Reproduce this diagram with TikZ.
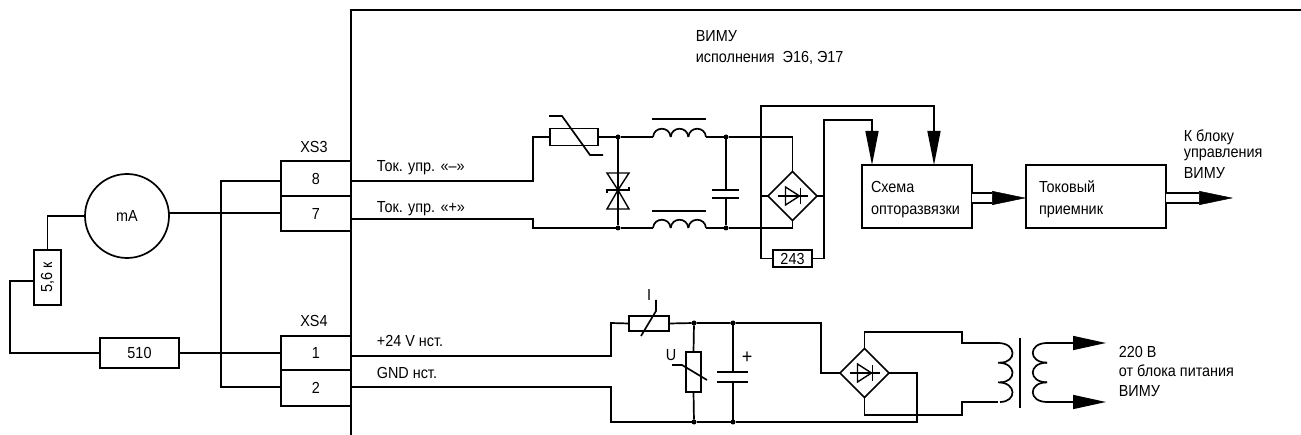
\documentclass[tikz,border=0pt]{standalone}
\usepackage{fontspec}
\setmainfont[FakeStretch=0.9]{Liberation Sans}
\usetikzlibrary{arrows.meta,shapes.geometric}
\newcommand{\pinnum}[1]{\raisebox{-4.5pt}{#1}}
\tikzset{box node/.style={rectangle,draw,inner sep=0pt,outer sep=0pt},
	dot node/.style={circle,fill=black,inner sep=0pt,minimum size=5pt,outer sep=0pt},
	bridge node/.style={diamond,draw,aspect=1,inner sep=0pt,outer sep=0pt,minimum size=49pt},
	text node/.style={anchor=base west,inner sep=0pt},
}
\begin{document}
\begin{tikzpicture}[x=1pt,y=-1pt,line width=1.7pt,font=\fontsize{16}{18}\selectfont,
		arrow wire/.style={-{Triangle[length=34pt,width=14pt]}},
		small arrow/.style={-{Triangle[length=34pt,width=13pt]},line width=1.5pt},
		block node/.style={box node,minimum height=63pt,align=left,text height=16.6pt,font=\fontsize{16}{22}\selectfont}]
	\useasboundingbox (0,0) rectangle (1301,435);
	
	% frame
	\draw (1301,10) -- (351,10) -- (351,435);
	
	% connectors
	\node[box node,minimum width=70pt,minimum height=35pt] (pin8) at (316,178.5) {\pinnum{8}};
	\node[box node,minimum width=70pt,minimum height=35pt] (pin7) at (316,213.5) {\pinnum{7}};
	\node[box node,minimum width=70pt,minimum height=34pt] (pin1) at (316,353) {\pinnum{1}};
	\node[box node,minimum width=70pt,minimum height=36pt] (pin2) at (316,388) {\pinnum{2}};
	\node[anchor=base,inner sep=0pt] (xs3) at (314,153) {XS3};
	\node[anchor=base,inner sep=0pt] (xs4) at (314,327) {XS4};
	
	% outside
	\node[circle,draw,minimum size=84pt,inner sep=0pt,outer sep=0pt] (ma) at (127,216) {mA};
	\node[box node,minimum width=27pt,minimum height=55pt] (r56) at (47.5,277.5) {\rotatebox{90}{5,6 к}};
	\node[box node,minimum width=79pt,minimum height=30pt] (r510) at (139.5,353) {510};
	\coordinate (j8) at (221,181);
	\coordinate (j2) at (221,387);
	\coordinate (c10) at (10,281);
	\draw (pin8.west |- j8) -- (j8) -- (j2) -- (pin2.west |- j2);
	\draw (ma.4) -- (pin7.west |- ma.4);
	\draw (ma.west) -| (r56.north);
	\draw (r56.west |- c10) -- (c10) |- (r510.west);
	\draw (r510.east) -- (pin1.west |- r510.east);
	
	% wire labels
	\node[text node] (t8l) at (376,172) {Ток. упр. «–»};
	\node[text node] (t7l) at (376,213) {Ток. упр. «+»};
	\node[text node] (t1l) at (376,347) {+24 V нст.};
	\node[text node] (t2l) at (376,379) {GND нст.};
	\node[text node] (title1) at (695,42) {ВИМУ};
	\node[text node] (title2) at (695,63) {исполнения\ \ Э16, Э17};
	
	% upper part
	\coordinate (t8) at (351,181);
	\coordinate (t7) at (351,219);
	\coordinate (k1) at (533,137);
	\coordinate (k2) at (533,228);
	\node[box node,minimum width=48pt,minimum height=17pt] (vr1) at (574,137) {};
	\node[dot node] (d1) at (618,137) {};
	\node[dot node] (d2) at (618,228) {};
	\node[dot node] (d3) at (726,137) {};
	\node[dot node] (d4) at (726,228) {};
	\node[bridge node] (b1) at (792.5,196) {};
	\node[box node,minimum width=39pt,minimum height=17pt] (r243) at (792.5,258.5) {243};
	\node[block node,text width=92pt,minimum width=110pt,inner xsep=9pt] (opto) at (917,196.5) {Схема\\опторазвязки};
	\node[block node,text width=114pt,minimum width=140pt,inner xsep=13pt] (recv) at (1096,196.5) {Токовый\\приемник};
	\coordinate (l1a) at (653,137);
	\coordinate (l1b) at (706,137);
	\coordinate (l2a) at (653,228);
	\coordinate (l2b) at (706,228);
	\coordinate (c1) at (761,106);
	\coordinate (c2) at (824,120);
	\coordinate (o1) at (872,165);
	\coordinate (o2) at (934,165);
	
	\draw (t8) -| (k1) -- (vr1.west);
	\draw (t7) -| (k2) -- (d2) -- (l2a);
	\draw (vr1.east) -- (d1) -- (l1a);
	\draw (l1b) -- (d3) -| (b1.north);
	\draw (l2b) -- (d4) -| (b1.south);
	\draw (d1) -- (d2);
	\foreach \y in {137,228}
	\foreach \x in {653,670.67,688.33}
	\draw (\x,\y) .. controls (\x+1,\y-11) and (\x+16.7,\y-11) .. (\x+17.67,\y);
	\draw (652,119) -- (706,119);
	\draw (652,211) -- (706,211);
	\draw (549,116) -- (562,116) -- (590,155) -- (603,155);
	% suppressor
	\draw[line width=1.4pt] (607,173) -- (629,173) -- (618,190) -- cycle;
	\draw[line width=1.4pt] (607,209) -- (629,209) -- (618,190) -- cycle;
	\draw[line width=1.4pt] (607,193) -- (607,190) -- (629,190) -- (629,187);
	% capacitor
	\draw (d3) -- (726,190);
	\draw (712,190) -- (739,190);
	\draw (712,198) -- (739,198);
	\draw (726,198) -- (d4);
	
	\draw[small arrow] (r243.west) -| (c1) -| (o2);
	\draw[small arrow] (r243.east) -| (c2) -| (o1);
	\draw (b1.west) -- (c1 |- b1.west);
	\draw (b1.east) -- (c2 |- b1.east);
	
	% output arrows
	\draw[line width=1.5pt,double,double distance=8.5pt] (opto.east |- 0,198) -- (992,198);
	\draw[arrow wire,line width=0.5pt] (992,198) -- (recv.west |- 0,198);
	\draw[line width=1.5pt,double,double distance=8.5pt] (recv.east |- 0,198) -- (1199,198);
	\coordinate (a0) at (1233,198);
	\draw[arrow wire,line width=0.5pt] (1199,198) -- (a0);
	\node[text node] (out1) at (1183,142) {К блоку};
	\node[text node] (out2) at (1183,158) {управления};
	\node[text node] (out3) at (1183,179) {ВИМУ};
	
	% lower part
	\coordinate (t1) at (351,356);
	\coordinate (t2) at (351,387);
	\coordinate (k3) at (611,323);
	\coordinate (k4) at (611,422);
	\coordinate (k5) at (821,323);
	\coordinate (k6) at (917,422);
	\coordinate (k7) at (962,332);
	\coordinate (k8) at (962,343);
	\coordinate (k9) at (962,415);
	\coordinate (k10) at (962,402);
	\coordinate (w1a) at (998,343);
	\coordinate (w1b) at (998,402);
	\coordinate (w2a) at (1047,343);
	\coordinate (w2b) at (1047,402);
	\coordinate (a1) at (1106,343);
	\coordinate (a2) at (1106,402);
	\node[box node,minimum width=15pt,minimum height=15pt,minimum width=40pt] (vr2) at (649,323.5) {};
	\node[box node,minimum width=15pt,minimum height=40pt] (vr3) at (693.5,372) {};
	\node[dot node] (d5) at (694,323) {};
	\node[dot node] (d6) at (733,323) {};
	\node[dot node] (d7) at (694,422) {};
	\node[dot node] (d8) at (733,422) {};
	\node[bridge node] (b2) at (864.5,373) {};
	
	\draw (t1) -| (k3) -- (vr2.west);
	\draw (vr2.east) -- (d5) -- (d6) -- (k5) |- (b2.west);
	\draw (t2) -| (k4) -- (d7) -- (d8) -- (k6) |- (b2.east);
	\draw (d5) -- (vr3.north);
	\draw (vr3.south) -- (d7);
	\draw (641,336) -- (656,311) -- (656,300);
	\draw (672,365) -- (682,365) -- (707,380);
	\node[anchor=base,inner sep=0pt] (ilab) at (649,301) {I};
	\node[anchor=base,inner sep=0pt] (ulab) at (671,361) {U};
	% capacitor
	\draw (d6) -- (733,372);
	\draw (717,372) -- (748,372);
	\draw (717,382) -- (748,382);
	\draw (733,382) -- (d8);
	\node[inner sep=0pt,font=\fontsize{20}{20}\selectfont] (plus) at (747,358) {+};
	% transformer
	\draw (b2.north) |- (k7) -- (k8) -- (w1a);
	\draw (b2.south) |- (k9) -- (k10) -- (w1b);
	\draw (1020,338) -- (1020,408);
	\foreach \y in {343,362.67,382.33}
	\draw (998,\y) .. controls (1017,\y) and (1017,\y+19.67) .. (1000,\y+19.67);
	\foreach \y in {343,362.67,382.33}
	\draw (1047,\y) .. controls (1028,\y) and (1028,\y+19.67) .. (1047,\y+19.67);
	\draw[small arrow,-{Triangle[length=33pt,width=14pt]}] (w2a) -- (a1);
	\draw[small arrow,-{Triangle[length=33pt,width=14pt]}] (w2b) -- (a2);
	\node[text node] (p1) at (1118,358) {220 В};
	\node[text node] (p2) at (1118,377) {от блока питания};
	\node[text node] (p3) at (1118,396) {ВИМУ};
	
	% diodes in the bridges
	\foreach \b in {b1,b2} {
		\draw[line width=1.4pt] ([xshift=-15pt]\b.center) -- ([xshift=15pt]\b.center);
		\draw[line width=1.4pt] ([shift={(-7pt,-9pt)}]\b.center) -- ([shift={(-7pt,9pt)}]\b.center) -- ([xshift=7pt]\b.center) -- cycle;
		\draw[line width=1.4pt] ([shift={(8pt,-8pt)}]\b.center) -- ([shift={(8pt,8pt)}]\b.center);
	}
\end{tikzpicture}
\end{document}
